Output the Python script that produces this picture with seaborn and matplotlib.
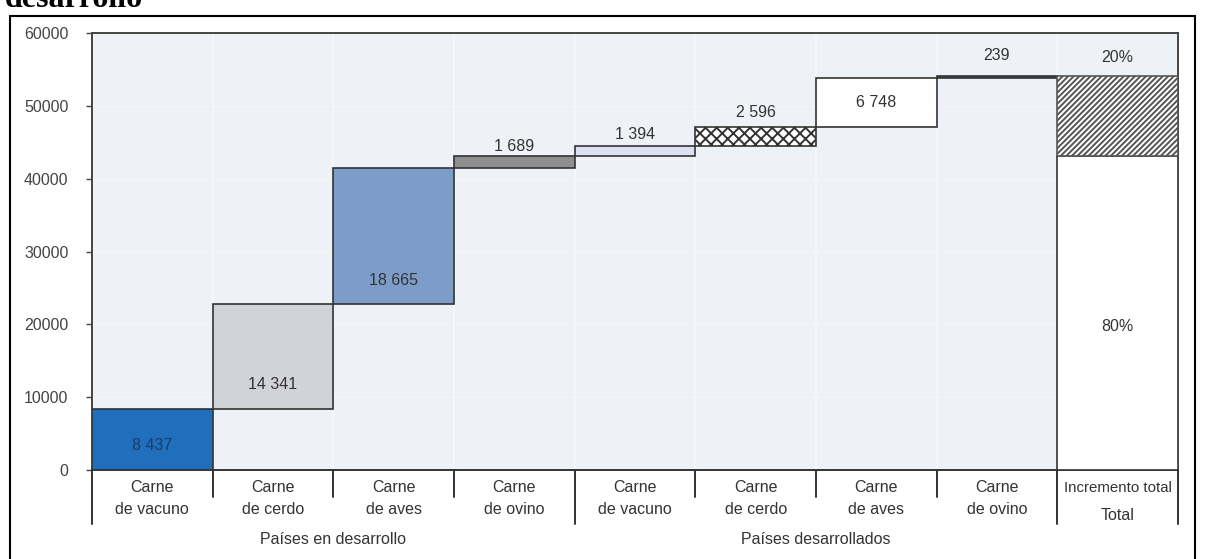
import matplotlib
matplotlib.use("Agg")
import matplotlib.pyplot as plt
import matplotlib.transforms as mtransforms
from matplotlib.patches import Rectangle
import numpy as np
import seaborn as sns

# ---------------- data ----------------
categories = ["Carne\nde vacuno", "Carne\nde cerdo", "Carne\nde aves", "Carne\nde ovino",
              "Carne\nde vacuno", "Carne\nde cerdo", "Carne\nde aves", "Carne\nde ovino"]
groups = ["Países en desarrollo", "Países desarrollados"]
values = [8437, 14341, 18665, 1689, 1394, 2596, 6748, 239]
value_labels = ["8 437", "14 341", "18 665", "1 689", "1 394", "2 596", "6 748", "239"]
total_label = "Incremento total"
total_group = "Total"
share_labels = ["80%", "20%"]
yticks = [0, 10000, 20000, 30000, 40000, 50000, 60000]

# ---------------- style ----------------
sns.set_theme(style="white")
FONT = ["Liberation Sans Narrow", "Liberation Sans", "DejaVu Sans"]
plt.rcParams["font.family"] = FONT
plt.rcParams["hatch.linewidth"] = 1.4

W, H = 1208, 559
fig = plt.figure(figsize=(W / 100, H / 100), dpi=100)
fig.patch.set_facecolor("white")

L, R, T, B = 92, 1178, 33, 470
ax = fig.add_axes([L / W, 1 - B / H, (R - L) / W, (B - T) / H])
ax.set_facecolor("#eef1f6")

colors = ["#1f6fbd", "#d2d3d8", "#7c9dc9", "#8e8e8e", "#dde0f1", "white", "white", "#555555"]
hatches = [None, None, None, None, None, "xxx", None, None]
edge = "#333333"

bottoms = np.concatenate([[0], np.cumsum(values)[:-1]])
tops = bottoms + np.array(values)
n = len(values)
for i in range(n):
    ax.bar(i, values[i], bottom=bottoms[i], width=1, align="edge",
           color=colors[i], edgecolor=edge, linewidth=1.2,
           hatch=hatches[i], zorder=3)

# total column: developing share (white) + developed share (hatched)
dev_total = tops[3]
grand_total = tops[-1]
ax.bar(n, dev_total, bottom=0, width=1, align="edge", color="white",
       edgecolor=edge, linewidth=1.2, zorder=3)
ax.bar(n, grand_total - dev_total, bottom=dev_total, width=1, align="edge",
       color="white", edgecolor="#555555", linewidth=1.2, hatch="//////", zorder=3)

# faint background grid stripes
for x in range(1, n + 1):
    ax.axvline(x, color="white", lw=1.2, alpha=0.45, zorder=1)
for y in yticks[1:-1]:
    ax.axhline(y, color="white", lw=1.0, alpha=0.35, zorder=1)

ax.set_xlim(0, n + 1)
ax.set_ylim(0, 60000)
ax.set_yticks(yticks)
ax.set_yticklabels([str(v) for v in yticks], fontsize=11.5, color="#444444")
ax.set_xticks([])
ax.tick_params(axis="y", direction="out", length=4, width=1, color="#444444",
               left=True, pad=13)
for s in ["left", "top", "right", "bottom"]:
    ax.spines[s].set_color("#444444")
    ax.spines[s].set_linewidth(1.4)
ax.spines["bottom"].set_color("#333333")

# value labels
txt_kw = dict(ha="center", va="center", fontsize=11.5, color="#333333", zorder=5)
inside = [True, True, True, False, False, False, True, False]
for i in range(n):
    cx = i + 0.5
    if inside[i]:
        y = bottoms[i] + 3300
        c = "#1d3a66" if i == 0 else "#333333"
        ax.text(cx, y, value_labels[i], **{**txt_kw, "color": c})
    else:
        off = [0, 0, 0, 1250, 1500, 2030, 0, 2870][i]
        ax.text(cx, tops[i] + off, value_labels[i], **txt_kw)
ax.text(n + 0.5, 19770, share_labels[0], **txt_kw)
ax.text(n + 0.5, 56570, share_labels[1], **txt_kw)

# category axis below the plot
trans = mtransforms.blended_transform_factory(ax.transData, ax.transAxes)
ph = B - T
def ay(px):
    return -(px - B) / ph

for x in range(0, n + 2):
    long_line = x in (0, 4, 8, 9)
    y_end = ay(524) if long_line else ay(497)
    ax.plot([x, x], [0, y_end], transform=trans, color="#333333", lw=1.4,
            clip_on=False, zorder=6)

lab_kw = dict(ha="center", va="center", fontsize=11.5, color="#333333",
              transform=trans, clip_on=False)
for i, c in enumerate(categories):
    l1, l2 = c.split("\n")
    ax.text(i + 0.5, ay(487), l1, **lab_kw)
    ax.text(i + 0.5, ay(510), l2, **lab_kw)
ax.text(n + 0.5, ay(488), total_label, **{**lab_kw, "fontsize": 10.8})
ax.text(n + 0.5, ay(515), total_group, **lab_kw)
ax.text(2, ay(540), groups[0], **lab_kw)
ax.text(6, ay(540), groups[1], **lab_kw)

# outer frame and (partly cut) title, as in the reference
fig.patches.append(Rectangle((10 / W, -0.05), (1195 - 10) / W, 1 - 16 / H + 0.05,
                             transform=fig.transFigure, fill=False,
                             edgecolor="black", linewidth=1.5))
fig.text(5 / W, 1 - 7 / H, "desarrollo", fontsize=23, fontweight="bold",
         family=["Liberation Serif", "DejaVu Serif"], ha="left", va="baseline",
         color="black")

fig.savefig("out.png", dpi=100)
